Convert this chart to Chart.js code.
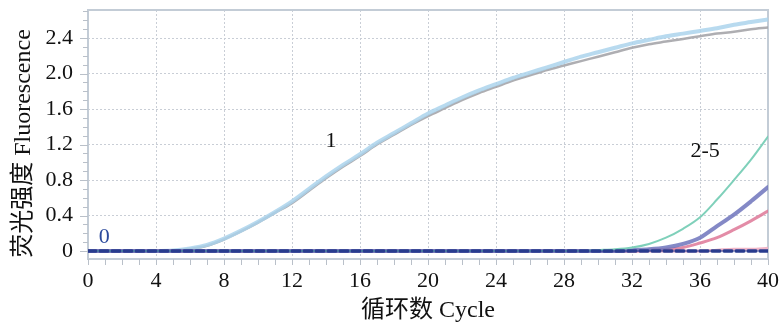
<!DOCTYPE html>
<html>
<head>
<meta charset="utf-8">
<script src="https://cdn.jsdelivr.net/npm/chart.js@4.4.0/dist/chart.umd.min.js"></script>
<style>
    html, body { margin: 0; padding: 0; background: #fff; }
    #wrap { width: 781px; height: 326px; }
</style>
</head>
<body>
<div id="wrap"><canvas id="pcrChart"></canvas></div>
<script>
// Cycle numbers (x categories)
const cycles = [0, 1, 2, 3, 4, 5, 6, 7, 8, 9, 10, 11, 12, 13, 14, 15, 16, 17, 18, 19, 20,
    21, 22, 23, 24, 25, 26, 27, 28, 29, 30, 31, 32, 33, 34, 35, 36, 37, 38, 39, 40];

// Fluorescence readings per cycle
const sample1a = [0, 0, 0, 0, 0, 0.005, 0.03, 0.07, 0.14, 0.23, 0.33, 0.44, 0.56, 0.70, 0.84, 0.97, 1.09, 1.22, 1.33, 1.44, 1.55,
    1.64, 1.73, 1.81, 1.88, 1.95, 2.01, 2.07, 2.13, 2.19, 2.24, 2.29, 2.34, 2.38, 2.42, 2.45, 2.48, 2.51, 2.55, 2.58, 2.61];
const sample1b = [0, 0, 0, 0, 0, 0.003, 0.025, 0.06, 0.13, 0.22, 0.32, 0.43, 0.54, 0.68, 0.82, 0.95, 1.07, 1.20, 1.31, 1.42, 1.52,
    1.61, 1.70, 1.78, 1.85, 1.92, 1.98, 2.04, 2.09, 2.14, 2.19, 2.24, 2.29, 2.33, 2.36, 2.39, 2.42, 2.45, 2.47, 2.50, 2.52];
const sample2 = [0, 0, 0, 0, 0, 0, 0, 0, 0, 0, 0, 0, 0, 0, 0, 0, 0, 0, 0, 0, 0,
    0, 0, 0, 0, 0, 0, 0, 0, 0, 0.01, 0.02, 0.04, 0.08, 0.15, 0.25, 0.38, 0.58, 0.80, 1.03, 1.29];
const sample3 = [0, 0, 0, 0, 0, 0, 0, 0, 0, 0, 0, 0, 0, 0, 0, 0, 0, 0, 0, 0, 0,
    0, 0, 0, 0, 0, 0, 0, 0, 0, 0, 0, 0.01, 0.02, 0.04, 0.08, 0.15, 0.28, 0.41, 0.56, 0.72];
const sample4 = [0, 0, 0, 0, 0, 0, 0, 0, 0, 0, 0, 0, 0, 0, 0, 0, 0, 0, 0, 0, 0,
    0, 0, 0, 0, 0, 0, 0, 0, 0, 0, 0, 0, 0.01, 0.02, 0.04, 0.09, 0.15, 0.24, 0.34, 0.45];
const sample5 = [0, 0, 0, 0, 0, 0, 0, 0, 0, 0, 0, 0, 0, 0, 0, 0, 0, 0, 0, 0, 0,
    0, 0, 0, 0, 0, 0, 0, 0, 0, 0, 0, 0, 0, 0, 0, 0, 0.01, 0.02, 0.02, 0.03];
const negative0 = [0, 0, 0, 0, 0, 0, 0, 0, 0, 0, 0, 0, 0, 0, 0, 0, 0, 0, 0, 0, 0,
    0, 0, 0, 0, 0, 0, 0, 0, 0, 0, 0, 0, 0, 0, 0, 0, 0, 0, 0, 0];

// Tick labels
const xTicks = [0, 4, 8, 12, 16, 20, 24, 28, 32, 36, 40];
const yTicks = [0, 0.4, 0.8, 1.2, 1.6, 2.0, 2.4];

const FONT = '"Liberation Serif", "Noto Sans CJK SC", serif';
const GRID = '#c9ced6';
const FRAME = '#c3ccd6';

// Curve labels, placed in data coordinates
const curveLabels = [
    { text: '1', x: 14.3, y: 1.24, color: '#111' },
    { text: '2-5', x: 36.3, y: 1.12, color: '#111' },
    { text: '0', x: 0.95, y: 0.15, color: '#2c4a9c' }
];

function toPoints(values) {
    return values.map((v, i) => ({ x: cycles[i], y: v }));
}

// Frame, minor ticks and curve labels
const decorPlugin = {
    id: 'decor',
    beforeDatasetsDraw(chart) {
        const { ctx, chartArea: a, scales: { x, y } } = chart;
        ctx.save();
        ctx.strokeStyle = FRAME;
        ctx.lineWidth = 2;
        ctx.strokeRect(a.left, a.top, a.right - a.left, a.bottom - a.top);

        ctx.strokeStyle = '#b9c0c9';
        ctx.lineWidth = 1;
        for (let i = 0; i <= 27; i++) {
            const v = i / 10;
            const py = Math.round(y.getPixelForValue(v)) + 0.5;
            const len = (i % 4 === 0) ? 8 : 5;
            ctx.beginPath();
            ctx.moveTo(a.left - len, py);
            ctx.lineTo(a.left, py);
            ctx.stroke();
        }
        cycles.forEach(c => {
            const px = Math.round(x.getPixelForValue(c)) + 0.5;
            ctx.beginPath();
            ctx.moveTo(px, a.bottom);
            ctx.lineTo(px, a.bottom + 6);
            ctx.stroke();
        });
        ctx.restore();
    },
    afterDatasetsDraw(chart) {
        const { ctx, scales: { x, y } } = chart;
        ctx.save();
        ctx.font = '22px ' + FONT;
        ctx.textAlign = 'center';
        ctx.textBaseline = 'middle';
        curveLabels.forEach(l => {
            ctx.fillStyle = l.color;
            ctx.fillText(l.text, x.getPixelForValue(l.x), y.getPixelForValue(l.y));
        });
        ctx.restore();
    }
};

const ctx = document.getElementById('pcrChart').getContext('2d');
new Chart(ctx, {
    type: 'line',
    data: {
        datasets: [
            { data: toPoints(negative0), borderColor: '#283c8e', borderWidth: 3.5, borderDash: [8, 4] },
            { data: toPoints(sample2), borderColor: 'rgba(120, 205, 182, 0.95)', borderWidth: 2 },
            { data: toPoints(sample3), borderColor: 'rgba(110, 116, 188, 0.85)', borderWidth: 4 },
            { data: toPoints(sample4), borderColor: 'rgba(222, 120, 152, 0.85)', borderWidth: 3 },
            { data: toPoints(sample5), borderColor: 'rgba(240, 175, 195, 0.9)', borderWidth: 3 },
            { data: toPoints(sample1a), borderColor: 'rgba(172, 212, 236, 0.85)', borderWidth: 4 },
            { data: toPoints(sample1b), borderColor: 'rgba(165, 165, 170, 0.9)', borderWidth: 2.5 }
        ]
    },
    options: {
        responsive: true,
        maintainAspectRatio: false,
        animation: false,
        layout: { padding: { top: 10, right: 13, left: 0, bottom: 0 } },
        elements: {
            point: { radius: 0 },
            line: { cubicInterpolationMode: 'monotone', fill: false, borderCapStyle: 'round' }
        },
        plugins: {
            legend: { display: false },
            tooltip: { enabled: false }
        },
        scales: {
            x: {
                type: 'linear',
                min: 0,
                max: 40,
                afterBuildTicks: scale => { scale.ticks = xTicks.map(v => ({ value: v })); },
                afterFit: scale => {
                    scale.height = 67;
                    scale.paddingLeft = 0;
                    scale.paddingRight = 0;
                },
                grid: {
                    drawTicks: false,
                    color: c => (c.tick && (c.tick.value === 0 || c.tick.value === 40)) ? 'transparent' : GRID,
                    lineWidth: 1
                },
                border: { display: false, dash: [2, 2] },
                ticks: {
                    padding: 9,
                    color: '#111',
                    font: { family: FONT, size: 22 },
                    maxRotation: 0,
                    callback: v => String(v)
                },
                title: {
                    display: true,
                    text: '循环数 Cycle',
                    color: '#111',
                    font: { family: FONT, size: 24 },
                    padding: { top: 0, bottom: 1 }
                }
            },
            y: {
                min: -0.09,
                max: 2.716,
                afterBuildTicks: scale => { scale.ticks = yTicks.map(v => ({ value: v })); },
                afterFit: scale => {
                    scale.width = 88;
                    scale.paddingTop = 0;
                    scale.paddingBottom = 0;
                },
                grid: {
                    drawTicks: false,
                    color: c => (c.tick && c.tick.value === 0) ? 'transparent' : GRID,
                    lineWidth: 1
                },
                border: { display: false, dash: [2, 2] },
                ticks: {
                    padding: 15,
                    color: '#111',
                    font: { family: FONT, size: 22 },
                    callback: v => v === 0 ? '0' : v.toFixed(1)
                },
                title: {
                    display: true,
                    text: '荧光强度 Fluorescence\u00a0\u00a0\u00a0',
                    color: '#111',
                    font: { family: FONT, size: 24 },
                    padding: { top: 9, bottom: 0 }
                }
            }
        }
    },
    plugins: [decorPlugin]
});
</script>
</body>
</html>
